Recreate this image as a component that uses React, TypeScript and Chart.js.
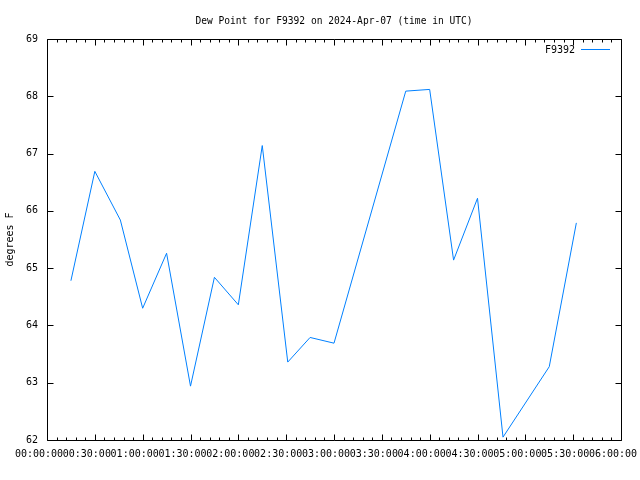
import React, { useEffect, useRef } from "react";
import { Chart, registerables } from "chart.js";

Chart.register(...registerables);

const chartTitle = "Dew Point for F9392 on 2024-Apr-07 (time in UTC)";
const yAxisTitle = "degrees F";
const seriesName = "F9392";
// minutes after 00:00 UTC
const times = [15, 30, 46, 60, 75, 90, 105, 120, 135, 151, 165, 180, 225, 240, 255, 270, 286, 315, 332];
const dewPoints = [64.78, 66.69, 65.84, 64.3, 65.26, 62.94, 64.84, 64.36, 67.14, 63.36, 63.79, 63.69, 68.09, 68.12, 65.14, 66.22, 62.05, 63.28, 65.79];
const xMin = 0;
const xMax = 360;
const xMajorStep = 30;
const xMinorStep = 6;
const yMin = 62;
const yMax = 69;

const LINE_COLOR = "rgb(0,128,255)";
const MONO = "'DejaVu Sans Mono', 'Liberation Mono', monospace";

function fmtTime(m: number): string {
  const h = Math.floor(m / 60);
  const mm = Math.round(m % 60);
  return `${String(h).padStart(2, "0")}:${String(mm).padStart(2, "0")}:00`;
}

const framePlugin = {
  id: "gnuFrame",
  afterDraw(chart: any) {
    const { ctx, chartArea } = chart;
    const xs = chart.scales.x;
    const ys = chart.scales.y;
    const L = Math.round(chartArea.left) + 0.5;
    const R = Math.round(chartArea.right) + 0.5;
    const T = Math.round(chartArea.top) + 0.5;
    const B = Math.round(chartArea.bottom) + 0.5;
    ctx.save();
    ctx.strokeStyle = "#000";
    ctx.lineWidth = 1;
    ctx.beginPath();
    ctx.rect(L, T, R - L, B - T);
    for (let m = xMin; m <= xMax; m += xMinorStep) {
      const px = Math.round(xs.getPixelForValue(m)) + 0.5;
      const len = m % xMajorStep === 0 ? 6 : 3;
      ctx.moveTo(px, B);
      ctx.lineTo(px, B - len);
      ctx.moveTo(px, T);
      ctx.lineTo(px, T + len);
    }
    for (let v = yMin; v <= yMax; v += 1) {
      const py = Math.round(ys.getPixelForValue(v)) + 0.5;
      ctx.moveTo(L, py);
      ctx.lineTo(L + 6, py);
      ctx.moveTo(R, py);
      ctx.lineTo(R - 6, py);
    }
    ctx.stroke();

    ctx.fillStyle = "#000";
    ctx.font = `9.6px ${MONO}`;
    ctx.textAlign = "center";
    ctx.textBaseline = "middle";
    ctx.fillText(chartTitle, (chartArea.left + chartArea.right) / 2, 21);

    ctx.save();
    ctx.translate(10, (chartArea.top + chartArea.bottom) / 2);
    ctx.rotate(-Math.PI / 2);
    ctx.font = `10px ${MONO}`;
    ctx.fillText(yAxisTitle, 0, 0);
    ctx.restore();

    ctx.font = `10px ${MONO}`;
    ctx.textAlign = "right";
    ctx.fillText(seriesName, 575, 50);
    ctx.strokeStyle = LINE_COLOR;
    ctx.beginPath();
    ctx.moveTo(581, 49.5);
    ctx.lineTo(610, 49.5);
    ctx.stroke();
    ctx.restore();
  },
};

export default function App() {
  const ref = useRef<HTMLCanvasElement | null>(null);
  useEffect(() => {
    if (!ref.current) return;
    const xTicks: number[] = [];
    for (let m = xMin; m <= xMax; m += xMajorStep) xTicks.push(m);
    const chart = new Chart(ref.current, {
      type: "line",
      data: {
        datasets: [
          {
            label: seriesName,
            data: times.map((t, i) => ({ x: t, y: dewPoints[i] })),
            borderColor: LINE_COLOR,
            borderWidth: 1,
            pointRadius: 0,
            tension: 0,
            fill: false,
          },
        ],
      },
      options: {
        responsive: false,
        animation: false,
        layout: { padding: { top: 39, right: 19, left: 0, bottom: 0 } },
        plugins: {
          legend: { display: false },
          title: { display: false },
          tooltip: { enabled: false },
        },
        scales: {
          x: {
            type: "linear",
            min: xMin,
            max: xMax,
            border: { display: false },
            grid: { display: false, drawTicks: false },
            afterBuildTicks: (s: any) => {
              s.ticks = xTicks.map((v) => ({ value: v }));
            },
            afterFit: (s: any) => {
              s.height = 40;
              s.paddingLeft = 0;
              s.paddingRight = 0;
            },
            ticks: {
              autoSkip: false,
              maxRotation: 0,
              minRotation: 0,
              padding: 8,
              labelOffset: -8,
              color: "#000",
              font: { family: MONO, size: 10 },
              callback: (v: any) => fmtTime(Number(v)),
            },
          },
          y: {
            min: yMin,
            max: yMax,
            border: { display: false },
            grid: { display: false, drawTicks: false },
            afterFit: (s: any) => {
              s.width = 47;
            },
            ticks: {
              stepSize: 1,
              padding: 9,
              color: "#000",
              font: { family: MONO, size: 10 },
            },
          },
        },
      },
      plugins: [framePlugin],
    });
    return () => chart.destroy();
  }, []);
  return (
    <div style={{ position: "absolute", left: 0, top: 0, width: 640, height: 480, background: "#fff" }}>
      <canvas ref={ref} width={640} height={480} style={{ width: 640, height: 480, display: "block" }} />
    </div>
  );
}
